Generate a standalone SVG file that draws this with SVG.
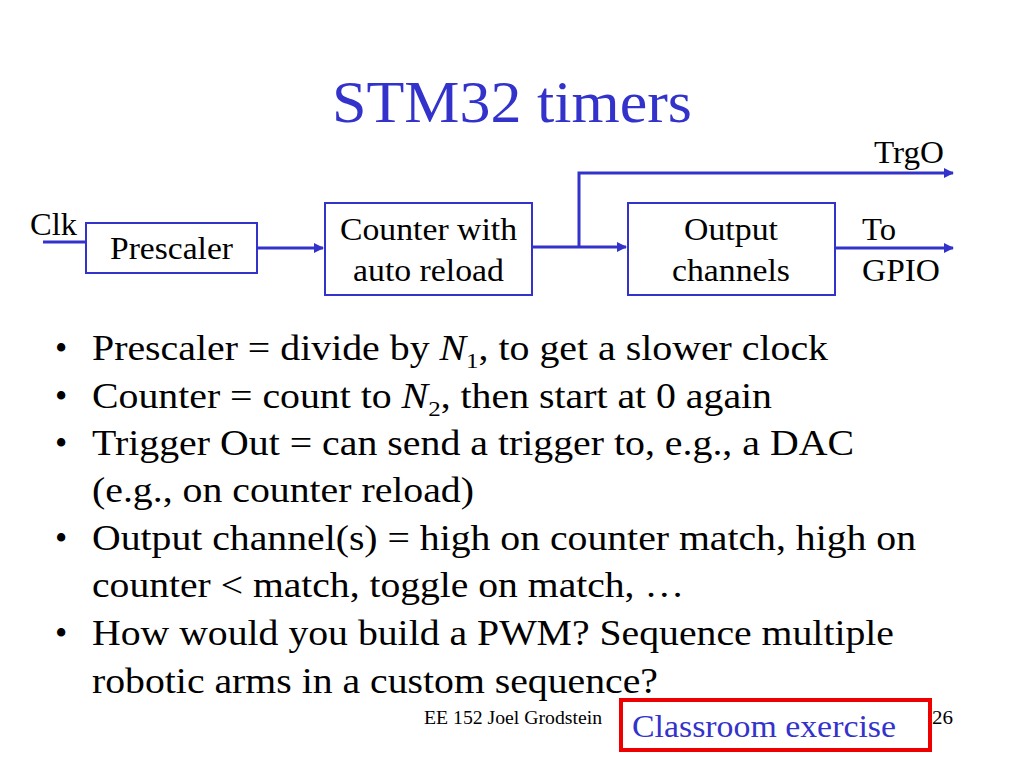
<svg xmlns="http://www.w3.org/2000/svg" width="1024" height="768" viewBox="0 0 1024 768">
<defs><marker id="ah" markerWidth="10" markerHeight="10" refX="9" refY="5" orient="auto" markerUnits="userSpaceOnUse"><path d="M0,0 L10,5 L0,10 z" fill="#3333cc"/></marker></defs>
<style>
text{font-family:"Liberation Serif",serif;fill:#000}
.box{fill:#fff;stroke:#3333cc;stroke-width:2}
.ln{stroke:#3333cc;stroke-width:3;fill:none}
.lb{font-size:31px}
.bt{font-size:35px}
</style>
<rect width="1024" height="768" fill="#fff"/>
<text x="332" y="122" textLength="360" lengthAdjust="spacingAndGlyphs" style="font-size:60px;fill:#3333cc">STM32 timers</text>
<g id="connectors">
<line class="ln" x1="43" y1="242" x2="86" y2="242"/>
<line class="ln" x1="257" y1="248" x2="323" y2="248" marker-end="url(#ah)"/>
<line class="ln" x1="532" y1="247" x2="626" y2="247" marker-end="url(#ah)"/>
<polyline class="ln" points="579,247 579,173 953,173" marker-end="url(#ah)"/>
<line class="ln" x1="835" y1="248" x2="953" y2="248" marker-end="url(#ah)"/>
</g>
<g id="prescaler"><rect class="box" x="86" y="223" width="171" height="50"/><text class="lb" x="110" y="259" textLength="123" lengthAdjust="spacingAndGlyphs">Prescaler</text></g>
<g id="counter"><rect class="box" x="325" y="203" width="207" height="92"/><text class="lb" x="340" y="240" textLength="177" lengthAdjust="spacingAndGlyphs">Counter with</text><text class="lb" x="353" y="281" textLength="151" lengthAdjust="spacingAndGlyphs">auto reload</text></g>
<g id="output"><rect class="box" x="628" y="203" width="207" height="92"/><text class="lb" x="684" y="240" textLength="94" lengthAdjust="spacingAndGlyphs">Output</text><text class="lb" x="672" y="281" textLength="118" lengthAdjust="spacingAndGlyphs">channels</text></g>
<text class="lb" x="30" y="235" textLength="47" lengthAdjust="spacingAndGlyphs">Clk</text>
<text class="lb" x="874" y="163" textLength="70" lengthAdjust="spacingAndGlyphs">TrgO</text>
<text class="lb" x="862" y="240" textLength="34" lengthAdjust="spacingAndGlyphs">To</text>
<text class="lb" x="862" y="281" textLength="78" lengthAdjust="spacingAndGlyphs">GPIO</text>
<g class="bt">
<text x="55" y="360">•</text><text x="92" y="360" textLength="736" lengthAdjust="spacingAndGlyphs">Prescaler = divide by <tspan font-style="italic">N</tspan><tspan font-size="22" dy="8">1</tspan><tspan dy="-8">, to get a slower clock</tspan></text>
<text x="55" y="408">•</text><text x="92" y="408" textLength="680" lengthAdjust="spacingAndGlyphs">Counter = count to <tspan font-style="italic">N</tspan><tspan font-size="22" dy="8">2</tspan><tspan dy="-8">, then start at 0 again</tspan></text>
<text x="55" y="455">•</text><text x="92" y="455" textLength="762" lengthAdjust="spacingAndGlyphs">Trigger Out = can send a trigger to, e.g., a DAC</text>
<text x="92" y="502" textLength="382" lengthAdjust="spacingAndGlyphs">(e.g., on counter reload)</text>
<text x="55" y="550">•</text><text x="92" y="550" textLength="824" lengthAdjust="spacingAndGlyphs">Output channel(s) = high on counter match, high on</text>
<text x="92" y="597" textLength="592" lengthAdjust="spacingAndGlyphs">counter &lt; match, toggle on match, …</text>
<text x="55" y="645">•</text><text x="92" y="645" textLength="802" lengthAdjust="spacingAndGlyphs">How would you build a PWM? Sequence multiple</text>
<text x="92" y="693" textLength="566" lengthAdjust="spacingAndGlyphs">robotic arms in a custom sequence?</text>
</g>
<text x="424" y="724" textLength="178" lengthAdjust="spacingAndGlyphs" style="font-size:18px">EE 152 Joel Grodstein</text>
<text x="932" y="724" textLength="21" lengthAdjust="spacingAndGlyphs" style="font-size:18px">26</text>
<rect x="621" y="700" width="309" height="50" fill="none" stroke="#ee0000" stroke-width="4"/>
<text x="632" y="737" textLength="264" lengthAdjust="spacingAndGlyphs" style="font-size:32px;fill:#3333cc">Classroom exercise</text>
</svg>
